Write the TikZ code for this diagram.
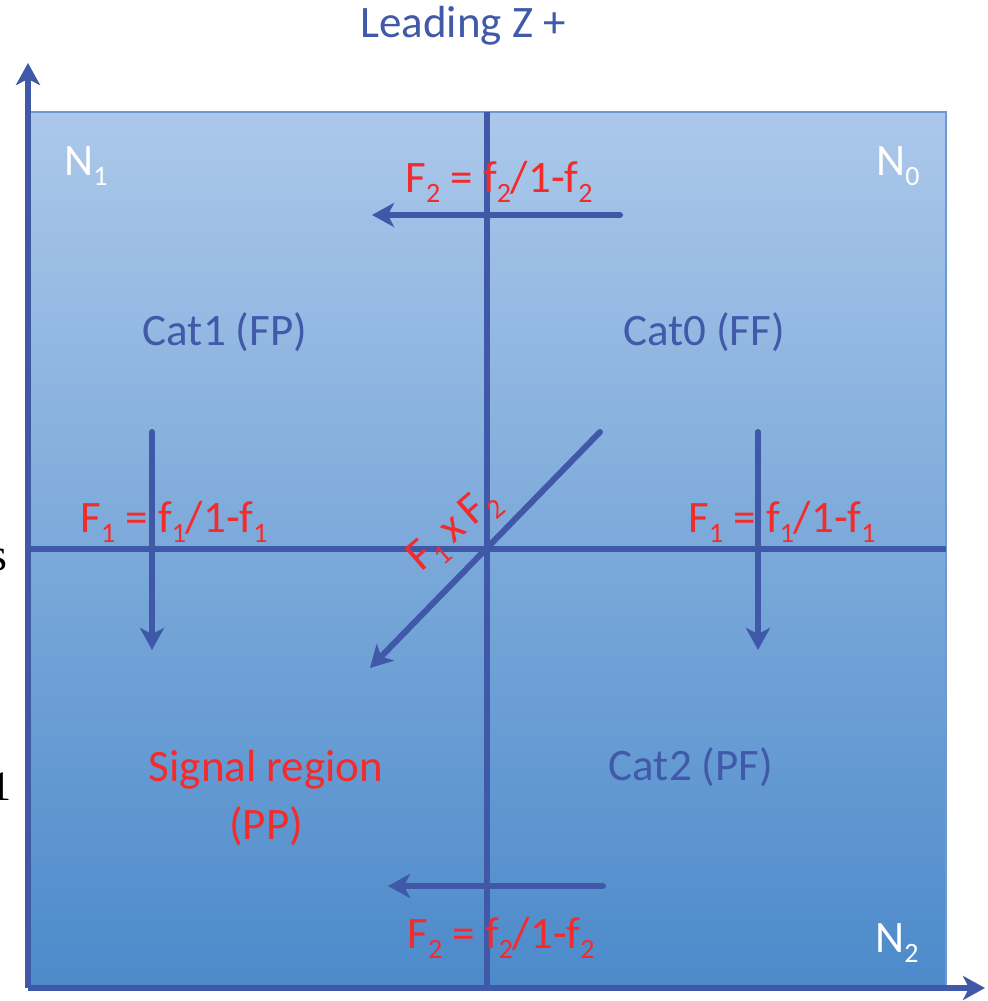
\documentclass[tikz,border=0pt]{standalone}
\usepackage{fontspec}
\setmainfont{Carlito}
\newfontfamily\strayserif{Liberation Serif}
\usetikzlibrary{arrows.meta}
\definecolor{axisblue}{HTML}{3F58A8}
\definecolor{txtblue}{HTML}{4159A9}
\definecolor{lblred}{HTML}{F42B2B}
\definecolor{boxtop}{HTML}{ABC8EA}
\definecolor{boxbot}{HTML}{4C8ACA}
\definecolor{boxedge}{HTML}{6D98D0}
\newcommand{\sbs}[1]{\raisebox{-5pt}{\fontsize{14pt}{14pt}\selectfont #1}}
\tikzset{
  lbl/.style={font=\fontsize{22.5pt}{29pt}\selectfont, inner sep=0pt, anchor=base},
  bluelbl/.style={lbl, text=txtblue},
  redlbl/.style={lbl, text=lblred},
  whitelbl/.style={lbl, text=white},
  divider/.style={draw=axisblue, line width=2.6pt},
  flowarrow/.style={draw=axisblue, line width=3pt, line cap=round, -{Stealth[length=11pt, width=12pt, inset=3pt]}},
  axisarrow/.style={draw=axisblue, line width=3pt, -{Stealth[length=11pt, width=12pt, inset=3pt]}},
}
\begin{document}
\begin{tikzpicture}[x=0.5pt, y=-0.5pt]
\useasboundingbox (0,0) rectangle (987,1001);
% background box
\shade[top color=boxtop, bottom color=boxbot] (30,112) rectangle (946,988);
\draw[boxedge, line width=0.8pt] (30,112) rectangle (946,988);
% coordinates
\coordinate (vtop) at (487,112);
\coordinate (vbot) at (487,988);
\coordinate (hleft) at (30,549);
\coordinate (hright) at (946,549);
\coordinate (origin) at (28,988);
\coordinate (ytip) at (28,63);
\coordinate (xtip) at (985,988);
\coordinate (t1) at (620,215);
\coordinate (t2) at (372,215);
\coordinate (b1) at (603,886);
\coordinate (b2) at (388,886);
\coordinate (l1) at (152,432);
\coordinate (l2) at (152,650);
\coordinate (r1) at (758,432);
\coordinate (r2) at (758,650);
\coordinate (d1) at (600,432);
\coordinate (d2) at (370,668);
% dividers
\draw[divider] (vtop) -- (vbot);
\draw[divider] (hleft) -- (hright);
% axes
\draw[axisarrow] (origin) -- (ytip);
\draw[axisarrow] (origin) -- (xtip);
% flow arrows
\draw[flowarrow] (t1) -- (t2);
\draw[flowarrow] (b1) -- (b2);
\draw[flowarrow] (l1) -- (l2);
\draw[flowarrow] (r1) -- (r2);
\draw[flowarrow] (d1) -- (d2);
% labels
\node[bluelbl] (title) at (463,37) {Leading Z +};
\node[whitelbl, anchor=base west] (n1) at (64,175) {N\sbs{1}};
\node[whitelbl, anchor=base east] (n0) at (920,175) {N\sbs{0}};
\node[whitelbl, anchor=base east] (n2) at (919,952) {N\sbs{2}};
\node[redlbl, anchor=base west] (ftop) at (405,192) {F\sbs{2} = f\sbs{2}/1-f\sbs{2}};
\node[redlbl, anchor=base west] (fbot) at (407,948) {F\sbs{2} = f\sbs{2}/1-f\sbs{2}};
\node[redlbl, anchor=base west] (fleft) at (80,532) {F\sbs{1} = f\sbs{1}/1-f\sbs{1}};
\node[redlbl, anchor=base west] (fright) at (688,532) {F\sbs{1} = f\sbs{1}/1-f\sbs{1}};
\node[redlbl, rotate=41] (fprod) at (461,538) {F\sbs{1}\,x\,F\sbs{2}};
\node[bluelbl] (cat1) at (225,345) {Cat1 (FP)};
\node[bluelbl] (cat0) at (704,345) {Cat0 (FF)};
\node[bluelbl] (cat2) at (691,780) {Cat2 (PF)};
\node[redlbl, align=center, anchor=north, text depth=0pt] (signal) at (266,750) {Signal region\\(PP)};
% stray cut-off text at left margin
\node[font=\strayserif\fontsize{23pt}{23pt}\selectfont, inner sep=0pt, anchor=base east] (strays) at (8,570) {s};
\node[font=\strayserif\fontsize{21pt}{21pt}\selectfont, inner sep=0pt, anchor=base east] (strayone) at (12,800) {1};
\end{tikzpicture}
\end{document}
